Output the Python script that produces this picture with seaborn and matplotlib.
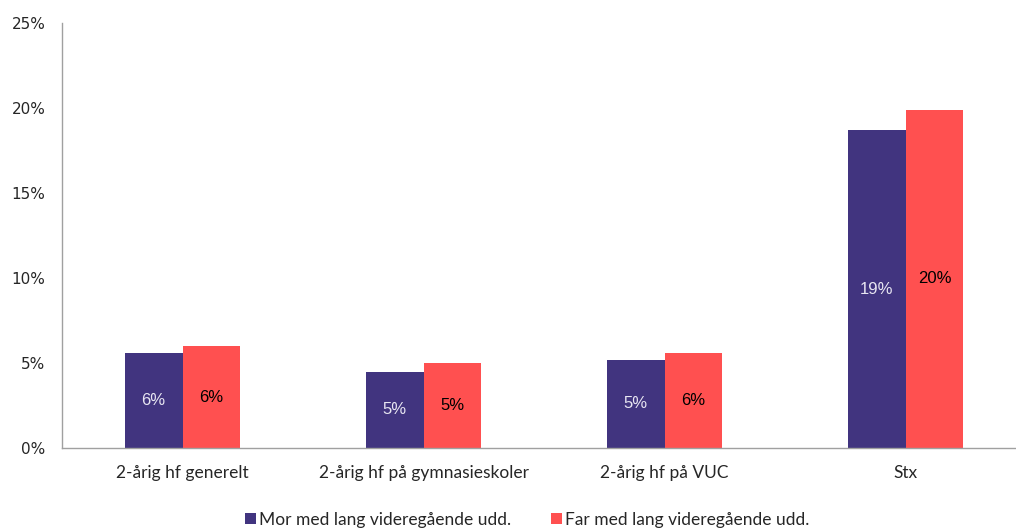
import matplotlib
matplotlib.use("Agg")
import matplotlib.pyplot as plt
import seaborn as sns
import pandas as pd
from matplotlib.patches import Patch

categories = ["2-årig hf generelt", "2-årig hf på gymnasieskoler", "2-årig hf på VUC", "Stx"]
series_names = ["Mor med lang videregående udd.", "Far med lang videregående udd."]
mor_values = [5.6, 4.5, 5.2, 18.7]
far_values = [6.0, 5.0, 5.6, 19.9]
mor_labels = ["6%", "5%", "5%", "19%"]
far_labels = ["6%", "5%", "6%", "20%"]
y_ticks = [0, 5, 10, 15, 20, 25]
y_tick_labels = ["0%", "5%", "10%", "15%", "20%", "25%"]
colors = ["#41347F", "#FF5050"]

df = pd.DataFrame({
    "kategori": categories * 2,
    "serie": [series_names[0]] * 4 + [series_names[1]] * 4,
    "værdi": mor_values + far_values,
})

sns.set_style("white")
fig = plt.figure(figsize=(10.16, 5.29), dpi=100)
ax = fig.add_axes([62 / 1016, (529 - 448) / 529, (1016 - 62) / 1016, (448 - 23) / 529])

sns.barplot(data=df, x="kategori", y="værdi", hue="serie", order=categories,
            hue_order=series_names, palette=colors, width=0.48, gap=0,
            saturation=1, ax=ax, legend=False, errorbar=None, linewidth=0)

ax.set_xlim(-0.5, 3.458)
ax.set_ylim(0, 25)
ax.set_yticks(y_ticks)
ax.set_yticklabels(y_tick_labels, fontfamily="DejaVu Sans", fontsize=11)
ax.set_xticks(range(len(categories)))
ax.set_xticklabels(categories, fontfamily="Lato", fontsize=12.5)
ax.set_xlabel("")
ax.set_ylabel("")
ax.tick_params(axis="y", length=0, pad=12)
ax.tick_params(axis="x", length=0, pad=12)
for s in ["top", "right"]:
    ax.spines[s].set_visible(False)
for s in ["left", "bottom"]:
    ax.spines[s].set_color("#A0A0A0")
    ax.spines[s].set_linewidth(1.0)

label_sets = [(mor_labels, "#E8E6F2"), (far_labels, "#000000")]
for container, (labs, col) in zip(ax.containers, label_sets):
    ax.bar_label(container, labels=labs, label_type="center", color=col,
                 fontsize=12, fontfamily="Liberation Sans")

handles = [Patch(facecolor=c, edgecolor="none") for c in colors]
fig.legend(handles, series_names, loc="lower center", bbox_to_anchor=(0.519, -0.027),
           ncol=2, frameon=False, prop={"family": "Lato", "size": 12.5},
           handlelength=0.65, handleheight=0.65, handletextpad=0.15, columnspacing=2.3)

fig.savefig("out.png", dpi=100)
